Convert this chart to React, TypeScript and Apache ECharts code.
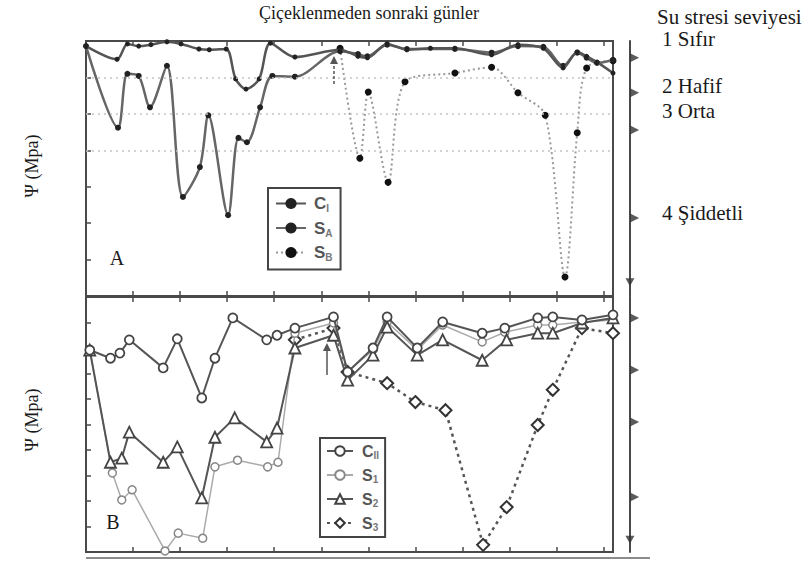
import { useEffect, useRef } from "react";
import * as echarts from "echarts";

// ---- Panel A: leaf water potential (MPa) against days after flowering ----
const panelA_CI: [number, number][] = [
  [0, -0.07], [3.3, -0.25], [4.4, -0.04], [5.6, -0.07], [6.9, -0.05], [8.6, -0.01],
  [10.1, -0.04], [12.0, -0.11], [13.1, -0.12], [14.9, -0.11], [15.9, -0.52], [17.0, -0.66],
  [18.4, -0.52], [19.6, -0.03], [22.2, -0.22], [27.0, -0.12], [28.9, -0.21], [29.9, -0.23],
  [32.0, -0.04], [34.1, -0.12], [36.6, -0.1], [39.2, -0.1], [43.1, -0.19], [45.9, -0.05],
  [48.6, -0.1], [50.7, -0.37], [52.2, -0.15], [53.2, -0.21], [54.3, -0.29], [56.0, -0.44],
];
const panelA_SA: [number, number][] = [
  [0, -0.07], [3.4, -1.19], [4.4, -0.45], [5.6, -0.48], [6.8, -0.91], [8.6, -0.34],
  [10.3, -2.14], [12.1, -1.73], [13.0, -1.02], [15.1, -2.39], [16.2, -1.33], [17.1, -1.39],
  [18.5, -0.91], [19.8, -0.48], [22.2, -0.49], [27.0, -0.14], [28.9, -0.18], [29.9, -0.21],
  [32.0, -0.05], [34.1, -0.11], [39.2, -0.11], [43.1, -0.16], [45.9, -0.07], [48.6, -0.08],
  [50.7, -0.34], [52.2, -0.16], [53.2, -0.23], [54.3, -0.3], [56.0, -0.26],
];
const panelA_SB: [number, number][] = [
  [27.0, -0.1], [29.1, -1.61], [30.0, -0.7], [32.1, -1.94], [33.9, -0.56], [39.2, -0.44],
  [43.1, -0.36], [45.9, -0.71], [48.8, -1.02], [50.9, -3.24], [52.2, -1.26], [53.2, -0.37],
  [56.0, -0.27],
];

// ---- Panel B ----
const panelB_CII: [number, number][] = [
  [0.4, -1.04], [2.6, -1.2], [3.6, -1.1], [4.6, -0.84], [8.2, -1.39], [9.7, -0.82],
  [12.3, -1.98], [13.7, -1.2], [15.6, -0.41], [19.2, -0.84], [20.3, -0.75], [22.2, -0.61],
  [26.3, -0.39], [27.8, -1.47], [30.5, -1.0], [32.0, -0.39], [35.2, -1.0], [37.9, -0.49],
  [42.1, -0.71], [44.5, -0.61], [48.0, -0.41], [49.6, -0.39], [52.7, -0.45], [56.0, -0.35],
];
const panelB_S1: [number, number][] = [
  [0.4, -1.04], [2.8, -3.45], [3.8, -3.98], [4.9, -3.78], [8.4, -4.98], [9.8, -4.63],
  [12.4, -4.73], [13.7, -3.33], [16.1, -3.2], [19.3, -3.33], [20.4, -3.24], [22.2, -0.71],
  [26.3, -0.51], [27.8, -1.47], [30.5, -1.04], [32.0, -0.49], [35.2, -1.04], [37.9, -0.55],
  [42.1, -0.88], [44.5, -0.69], [48.0, -0.55], [49.6, -0.55], [52.7, -0.49], [56.0, -0.45],
];
const panelB_S2: [number, number][] = [
  [0.4, -1.04], [2.6, -3.24], [3.8, -3.16], [4.6, -2.65], [8.2, -3.24], [9.7, -2.94],
  [12.3, -3.94], [13.7, -2.75], [15.8, -2.37], [19.2, -2.84], [20.3, -2.57], [22.2, -1.0],
  [26.3, -0.75], [27.8, -1.63], [30.5, -1.14], [32.0, -0.59], [35.2, -1.14], [37.9, -0.84],
  [42.1, -1.24], [44.7, -0.84], [48.0, -0.71], [49.6, -0.71], [52.7, -0.51], [56.0, -0.41],
];
const panelB_S3: [number, number][] = [
  [22.2, -0.84], [26.3, -0.61], [27.8, -1.47], [32.0, -1.69], [35.0, -2.06], [38.2, -2.22],
  [42.2, -4.86], [44.7, -4.12], [48.0, -2.51], [49.6, -1.82], [52.7, -0.61], [56.0, -0.71],
];

// Stress-level marks on the right-hand scale (MPa) and the lower end arrow
const levelMarksA = [-0.23, -0.71, -1.22, -2.43];
const levelEndA = -3.31;
const levelMarksB = [-0.41, -1.43, -2.45, -3.92];
const levelEndB = -4.76;
const thresholdLinesA = [-0.5, -1.0, -1.5];

// Day on which stress treatment began (arrow), with its stem extent in MPa
const stressStartA = { day: 26.35, from: -0.59, to: -0.26 };
const stressStartB = { day: 25.6, from: -1.53, to: -0.98 };

const levelTexts = ["1 Sıfır", "2 Hafif", "3 Orta", "4 Şiddetli"];

const DAY_MAX = 56;
const RIGHT_AXIS_DAY = 57.8;
const LEVEL_MARK_DAY = 58.3;

const SERIF = '"Liberation Serif", "Times New Roman", serif';
const SANS = '"Liberation Sans", Arial, sans-serif';
const FRAME = "#4a4a4a";

const legendNames: Record<string, string> = {
  CI: "{b|C}{s|I}",
  SA: "{b|S}{s|A}",
  SB: "{b|S}{s|B}",
  CII: "{b|C}{s|II}",
  S1: "{b|S}{s|1}",
  S2: "{b|S}{s|2}",
  S3: "{b|S}{s|3}",
};

function xAxisFor(gridIndex: number, position: "top" | "bottom") {
  return {
    type: "value",
    gridIndex,
    position,
    min: 0,
    max: DAY_MAX,
    interval: 5,
    axisLine: { show: true, onZero: false, lineStyle: { color: FRAME, width: 2 } },
    axisTick: { show: true, inside: true, length: 5, lineStyle: { color: FRAME, width: 1.5 } },
    axisLabel: { show: false },
    splitLine: { show: false },
  };
}

function yAxisFor(gridIndex: number, min: number) {
  return {
    type: "value",
    gridIndex,
    position: "left",
    min,
    max: 0,
    interval: 0.5,
    axisLine: { show: true, onZero: false, lineStyle: { color: FRAME, width: 2 } },
    axisTick: { show: true, inside: true, length: 5, lineStyle: { color: FRAME, width: 1.5 } },
    axisLabel: { show: false },
    splitLine: { show: false },
  };
}

function rightAxisFor(gridIndex: number, min: number) {
  return {
    type: "value",
    gridIndex,
    position: "right",
    offset: 17,
    min,
    max: 0,
    axisLine: { show: true, onZero: false, lineStyle: { color: FRAME, width: 2 } },
    axisTick: { show: false },
    axisLabel: { show: false },
    splitLine: { show: false },
  };
}

function levelSeries(xAxisIndex: number, yAxisIndex: number, marks: number[], end: number) {
  return [
    {
      type: "scatter",
      xAxisIndex,
      yAxisIndex,
      clip: false,
      silent: true,
      symbol: "triangle",
      symbolRotate: -90,
      symbolSize: 9,
      itemStyle: { color: "#333" },
      data: marks.map((v) => [LEVEL_MARK_DAY, v]),
      z: 5,
    },
    {
      type: "scatter",
      xAxisIndex,
      yAxisIndex,
      clip: false,
      silent: true,
      symbol: "triangle",
      symbolRotate: 180,
      symbolSize: [9, 8],
      itemStyle: { color: "#333" },
      data: [[RIGHT_AXIS_DAY, end]],
      z: 5,
    },
  ];
}

function arrowLine(start: { day: number; from: number; to: number }, dashed: boolean) {
  return {
    silent: true,
    symbol: ["none", "triangle"],
    symbolSize: 8,
    label: { show: false },
    lineStyle: { color: "#555", width: 1.5, type: dashed ? [3, 2] : "solid" },
    data: [[{ coord: [start.day, start.from] }, { coord: [start.day, start.to] }]],
  };
}

const openSymbol = (border: string, width = 1.8) => ({
  color: "#fff",
  borderColor: border,
  borderWidth: width,
});

function buildOption() {
  const textEl = (text: string, x: number, y: number, size: number, align = "left") => ({
    type: "text",
    x,
    y,
    silent: true,
    style: {
      text,
      fill: "#1a1a1a",
      fontFamily: SERIF,
      fontSize: size,
      textAlign: align,
      textVerticalAlign: "middle",
    },
  });

  const levelY = [39, 86, 111, 213];

  return {
    animation: false,
    backgroundColor: "#fff",
    grid: [
      { left: 86, top: 41, width: 527, height: 255, show: true, borderColor: FRAME, borderWidth: 2, outerBoundsMode: "none" },
      { left: 86, top: 297, width: 527, height: 255, show: true, borderColor: FRAME, borderWidth: 2, outerBoundsMode: "none" },
    ],
    xAxis: [xAxisFor(0, "bottom"), xAxisFor(0, "top"), xAxisFor(1, "bottom"), xAxisFor(1, "top")],
    yAxis: [yAxisFor(0, -3.5), rightAxisFor(0, -3.5), yAxisFor(1, -5), rightAxisFor(1, -5)],
    legend: [
      {
        data: ["CI", "SA", "SB"],
        orient: "vertical",
        left: 268,
        top: 188,
        padding: [7, 8, 7, 7],
        itemWidth: 30,
        itemHeight: 14,
        itemGap: 6,
        borderColor: "#444",
        borderWidth: 2,
        backgroundColor: "#fff",
        formatter: (n: string) => legendNames[n],
        textStyle: {
          padding: [0, 0, 0, 3],
          rich: {
            b: { fontSize: 17, lineHeight: 20, fontFamily: SANS, color: "#555", fontWeight: "bold" },
            s: { fontSize: 10, lineHeight: 10, fontFamily: SANS, color: "#777", verticalAlign: "bottom", fontWeight: "bold" },
          },
        },
      },
      {
        data: ["CII", "S1", "S2", "S3"],
        orient: "vertical",
        left: 320,
        top: 438,
        padding: [5, 6, 5, 6],
        itemWidth: 26,
        itemHeight: 12,
        itemGap: 7,
        borderColor: "#444",
        borderWidth: 2,
        backgroundColor: "#fff",
        formatter: (n: string) => legendNames[n],
        textStyle: {
          padding: [0, 0, 0, 4],
          rich: {
            b: { fontSize: 16, lineHeight: 18, fontFamily: SANS, color: "#555", fontWeight: "bold" },
            s: { fontSize: 10, lineHeight: 10, fontFamily: SANS, color: "#777", verticalAlign: "bottom", fontWeight: "bold" },
          },
        },
      },
    ],
    series: [
      {
        name: "CI",
        type: "line",
        xAxisIndex: 0,
        yAxisIndex: 0,
        smooth: 0.3,
        symbol: "circle",
        symbolSize: 5,
        lineStyle: { color: "#555", width: 2.5 },
        itemStyle: { color: "#222" },
        data: panelA_CI,
        z: 4,
        markLine: {
          silent: true,
          symbol: "none",
          label: { show: false },
          lineStyle: { color: "#c4c4c4", width: 1.5, type: [2, 4] },
          data: thresholdLinesA.map((v) => ({ yAxis: v })),
        },
      },
      {
        name: "SA",
        type: "line",
        xAxisIndex: 0,
        yAxisIndex: 0,
        smooth: 0.3,
        symbol: "circle",
        symbolSize: 6,
        lineStyle: { color: "#666", width: 2.5 },
        itemStyle: { color: "#222" },
        data: panelA_SA,
        z: 3,
      },
      {
        name: "SB",
        type: "line",
        xAxisIndex: 0,
        yAxisIndex: 0,
        smooth: 0.3,
        symbol: "circle",
        symbolSize: 7,
        lineStyle: { color: "#999", width: 2, type: [2, 3] },
        itemStyle: { color: "#111" },
        data: panelA_SB,
        z: 2,
        markLine: arrowLine(stressStartA, true),
      },
      {
        name: "CII",
        type: "line",
        xAxisIndex: 2,
        yAxisIndex: 2,
        symbol: "circle",
        symbolSize: 9,
        lineStyle: { color: "#555", width: 2 },
        itemStyle: openSymbol("#444"),
        data: panelB_CII,
        z: 5,
        markLine: arrowLine(stressStartB, false),
      },
      {
        name: "S1",
        type: "line",
        xAxisIndex: 2,
        yAxisIndex: 2,
        symbol: "circle",
        symbolSize: 8,
        lineStyle: { color: "#aaa", width: 1.5 },
        itemStyle: openSymbol("#888", 1.5),
        data: panelB_S1,
        z: 3,
      },
      {
        name: "S2",
        type: "line",
        xAxisIndex: 2,
        yAxisIndex: 2,
        symbol: "triangle",
        symbolSize: 11,
        lineStyle: { color: "#555", width: 2 },
        itemStyle: openSymbol("#444"),
        data: panelB_S2,
        z: 4,
      },
      {
        name: "S3",
        type: "line",
        xAxisIndex: 2,
        yAxisIndex: 2,
        symbol: "diamond",
        symbolSize: 12,
        lineStyle: { color: "#555", width: 2.5, type: [3, 4] },
        itemStyle: openSymbol("#333", 2),
        data: panelB_S3,
        z: 2,
      },
      ...levelSeries(0, 0, levelMarksA, levelEndA),
      ...levelSeries(2, 2, levelMarksB, levelEndB),
    ],
    graphic: [
      textEl("Çiçeklenmeden sonraki günler", 369, 13, 18, "center"),
      textEl("Su stresi seviyesi", 657, 17, 21),
      ...levelTexts.map((t, i) => textEl(t, 662, levelY[i], 21)),
      textEl("A", 117, 258, 20, "center"),
      textEl("B", 113, 522, 20, "center"),
      { ...textEl("Ψ (Mpa)", 32, 166, 18, "center"), rotation: Math.PI / 2 },
      { ...textEl("Ψ (Mpa)", 32, 420, 18, "center"), rotation: Math.PI / 2 },
      {
        type: "line",
        silent: true,
        shape: { x1: 86, y1: 558, x2: 650, y2: 558 },
        style: { stroke: "#666", lineWidth: 1.5 },
      },
    ],
  };
}

export default function App() {
  const ref = useRef<HTMLDivElement>(null);
  useEffect(() => {
    document.body.style.margin = "0";
    if (!ref.current) return;
    const chart = echarts.init(ref.current, null, { renderer: "svg" });
    chart.setOption(buildOption() as any);
    return () => chart.dispose();
  }, []);
  return <div ref={ref} style={{ width: 806, height: 565 }} />;
}
